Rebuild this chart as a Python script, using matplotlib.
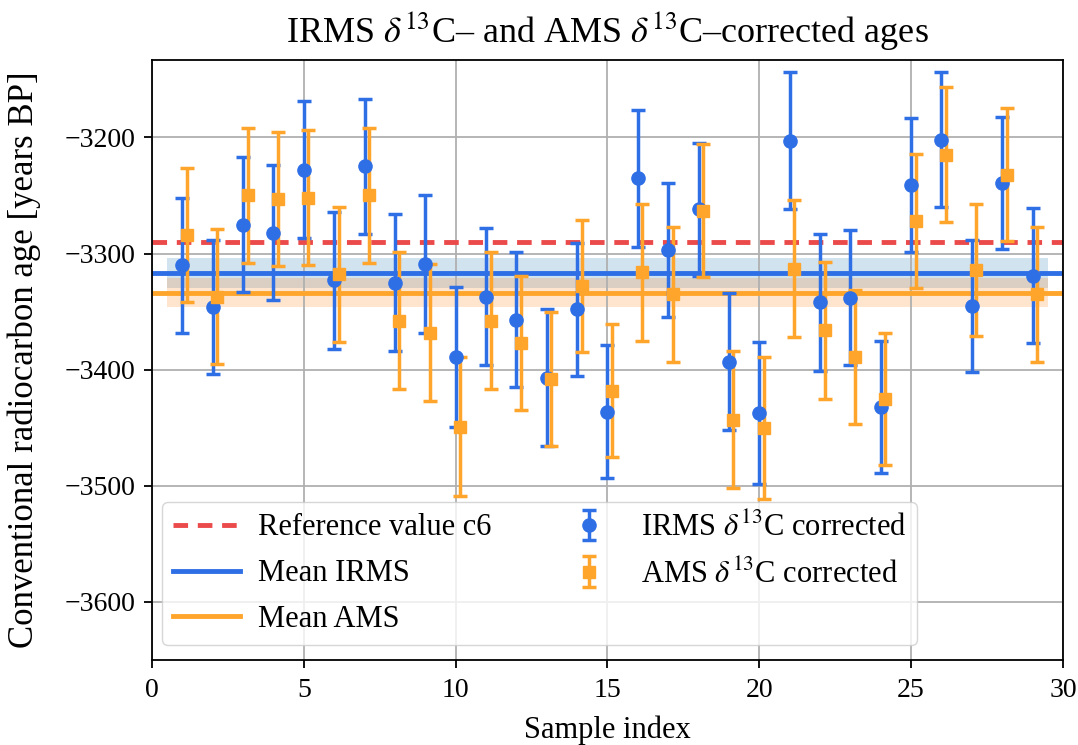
import numpy as np
import matplotlib
matplotlib.use('Agg')
import matplotlib.pyplot as plt

plt.rcParams['font.family'] = ['Liberation Serif', 'DejaVu Serif']
plt.rcParams['mathtext.fontset'] = 'stix'

# sample data
sample = np.arange(1, 30)
irms_age = [-3310, -3346, -3275, -3282, -3228, -3323, -3225, -3325, -3309, -3389,
            -3337, -3357, -3407, -3348, -3436, -3235, -3297, -3262, -3393, -3437,
            -3203, -3342, -3338, -3432, -3241, -3202, -3345, -3239, -3319]
irms_err = [58, 58, 58, 58, 59, 59, 58, 59, 59, 60,
            59, 58, 59, 57, 57, 59, 58, 57, 59, 61,
            59, 59, 58, 57, 58, 58, 57, 57, 58]
ams_age = [-3284, -3337, -3250, -3253, -3252, -3318, -3250, -3358, -3368, -3449,
           -3358, -3377, -3408, -3328, -3418, -3316, -3335, -3263, -3443, -3450,
           -3313, -3366, -3389, -3425, -3272, -3215, -3314, -3232, -3335]
ams_err = [58, 58, 58, 58, 58, 58, 58, 59, 59, 60,
           59, 58, 58, 57, 57, 59, 58, 57, 59, 61,
           59, 59, 58, 57, 58, 58, 57, 57, 58]
reference_c6 = -3290

c_blue = '#2f6fe6'
c_orange = '#ffa52c'
c_red = '#eb4a4a'

irms = np.array(irms_age, dtype=float)
ams = np.array(ams_age, dtype=float)
mean_irms, mean_ams = irms.mean(), ams.mean()
sem_irms = irms.std(ddof=1) / np.sqrt(len(irms))
sem_ams = ams.std(ddof=1) / np.sqrt(len(ams))

fig = plt.figure(figsize=(10.78, 7.45), dpi=100)
ax = fig.add_axes([0.141, 0.114, 0.845, 0.806])

xb = [sample.min() - 0.5, sample.max() + 0.5]
ax.fill_between(xb, mean_irms - sem_irms, mean_irms + sem_irms, color='C0', alpha=0.2, lw=0)
ax.fill_between(xb, mean_ams - sem_ams, mean_ams + sem_ams, color='C1', alpha=0.2, lw=0)

ax.axhline(reference_c6, color=c_red, ls='--', lw=3.5, dashes=(3, 2), label='Reference value c6')
ax.axhline(mean_irms, color=c_blue, lw=3.5, label='Mean IRMS')
ax.axhline(mean_ams, color=c_orange, lw=3.5, label='Mean AMS')

ax.errorbar(sample, irms, yerr=irms_err, fmt='o', color=c_blue, ms=9.5, elinewidth=2.5,
            capsize=5, capthick=2.5, label=r'IRMS $\delta^{13}$C corrected')
ax.errorbar(sample + 0.15, ams, yerr=ams_err, fmt='s', color=c_orange, ms=9, elinewidth=2.5,
            capsize=5, capthick=2.5, label=r'AMS $\delta^{13}$C corrected')

ax.set_xlim(0, 30)
ax.set_ylim(-3650, -3133)
ax.set_xticks([0, 5, 10, 15, 20, 25, 30])
ax.set_yticks([-3600, -3500, -3400, -3300, -3200])
ax.grid(True, color='#b0b0b0', lw=1.3)
ax.tick_params(labelsize=20, width=1.3, length=6)
ax.tick_params(axis='x', pad=7)
ax.tick_params(axis='y', pad=6)
for s in ax.spines.values():
    s.set_linewidth(1.3)

ax.set_xlabel('Sample index', fontsize=22, labelpad=9)
ax.set_ylabel('Conventional radiocarbon age [years BP]', fontsize=25)
ax.yaxis.set_label_coords(-0.122, 0.5)
ax.set_title(r'IRMS $\delta^{13}$C– and AMS $\delta^{13}$C–corrected ages', fontsize=26, pad=13)

ax.legend(loc='lower left', ncol=2, fontsize=22, borderpad=0.35, labelspacing=0.55,
          columnspacing=2.1, handlelength=2.2, handletextpad=0.6, framealpha=0.8,
          bbox_to_anchor=(-0.006, 0.0))

fig.savefig('out.png', dpi=100)
